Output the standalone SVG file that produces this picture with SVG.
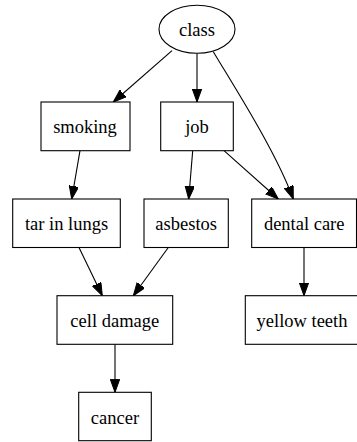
<svg xmlns="http://www.w3.org/2000/svg" width="357" height="442" viewBox="0 0 357 442">
<style>
.node rect, .node ellipse { fill: #ffffff; stroke: #000000; stroke-width: 1.1; }
.node text { font-family: 'Liberation Serif', 'Times New Roman', Times, 'DejaVu Serif', serif; font-size: 18.5px; fill: #000000; text-anchor: middle; }
.edge path { fill: none; stroke: #000000; stroke-width: 1.1; marker-end: url(#arrow); }
</style>
<defs>
<marker id="arrow" markerUnits="userSpaceOnUse" markerWidth="14" markerHeight="10" refX="13" refY="4.7" orient="auto" viewBox="0 0 14 10">
<path d="M0,0 L13,4.7 L0,9.4 Z" fill="#000000" stroke="#000000" stroke-width="1"/>
</marker>
</defs>
<rect x="0" y="0" width="357" height="442" fill="#ffffff"/>
<g id="edges">
<g class="edge"><path d="M172,50.7 L113.3,102"/></g>
<g class="edge"><path d="M197,53.3 L197,102"/></g>
<g class="edge"><path d="M213.3,51.7 C235,88 275,150 293.3,199"/></g>
<g class="edge"><path d="M80,150.7 L71.7,199"/></g>
<g class="edge"><path d="M192.7,150.7 L188.7,199"/></g>
<g class="edge"><path d="M224,150.7 L278.3,199"/></g>
<g class="edge"><path d="M79,247.5 L102.3,295.7"/></g>
<g class="edge"><path d="M168.3,247.5 L133.3,295.7"/></g>
<g class="edge"><path d="M304,247.5 L304,295.7"/></g>
<g class="edge"><path d="M115,344.3 L115,392.3"/></g>
</g>
<g id="class" class="node"><ellipse cx="197" cy="29.3" rx="38" ry="24"/><text x="197" y="36.3" font-family="Liberation Serif, serif">class</text></g>
<g id="smoking" class="node"><rect x="41" y="102" width="89" height="48.7"/><text x="85" y="133.3">smoking</text></g>
<g id="job" class="node"><rect x="160.7" y="102" width="72.6" height="48.7"/><text x="197" y="133.3">job</text></g>
<g id="tar_in_lungs" class="node"><rect x="12.7" y="199" width="107.6" height="48.5"/><text x="66.5" y="230.2">tar in lungs</text></g>
<g id="asbestos" class="node"><rect x="144" y="199" width="84.3" height="48.5"/><text x="186.2" y="230.2">asbestos</text></g>
<g id="dental_care" class="node"><rect x="251.7" y="199" width="104.8" height="48.5"/><text x="304.2" y="230.2">dental care</text></g>
<g id="cell_damage" class="node"><rect x="57" y="295.7" width="115.7" height="48.6"/><text x="114.8" y="327">cell damage</text></g>
<g id="yellow_teeth" class="node"><rect x="245.3" y="295.7" width="118" height="48.6"/><text x="302" y="327">yellow teeth</text></g>
<g id="cancer" class="node"><rect x="78.7" y="392.3" width="72.6" height="48.4"/><text x="115" y="423.5">cancer</text></g>
</svg>
